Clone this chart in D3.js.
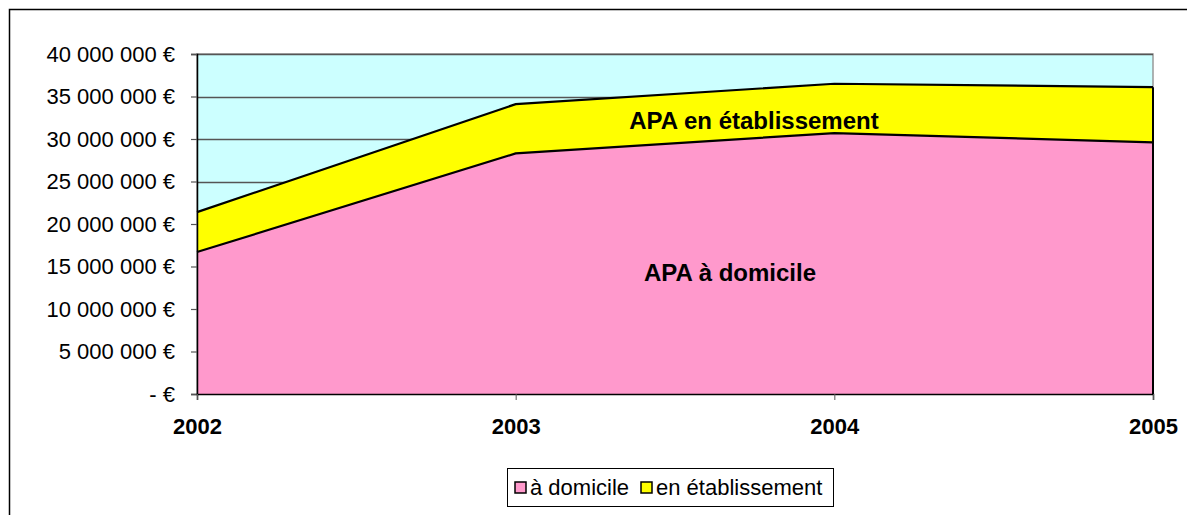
<!DOCTYPE html>
<html>
<head>
<meta charset="utf-8">
<script src="https://cdn.jsdelivr.net/npm/d3@7"></script>
<style>
  body { margin: 0; background: #fff; }
  text { font-family: "Liberation Sans", Arial, sans-serif; }
</style>
</head>
<body>
<script>
const years = ["2002", "2003", "2004", "2005"];
const domicile = [16700000, 28300000, 30700000, 29600000];
const etablissement = [4700000, 5800000, 5800000, 6500000];
const yTicks = [0, 5000000, 10000000, 15000000, 20000000, 25000000, 30000000, 35000000, 40000000];
const seriesNames = ["à domicile", "en établissement"];
const seriesColours = ["#ff99cc", "#ffff00"];

const width = 1187;
const height = 515;
const plot = { left: 197, right: 1153, top: 54, bottom: 394 };

const svg = d3.select("body")
    .append("svg")
    .attr("width", width)
    .attr("height", height);

// outer chart frame (runs off the right and bottom)
svg.append("rect")
    .attr("x", 9.5)
    .attr("y", 9.5)
    .attr("width", 1200)
    .attr("height", 600)
    .attr("fill", "none")
    .attr("stroke", "#000")
    .attr("stroke-width", 1.5);

const x = d3.scalePoint()
    .domain(years)
    .range([plot.left, plot.right]);
const y = d3.scaleLinear()
    .domain([0, 40000000])
    .range([plot.bottom, plot.top]);

svg.append("rect")
    .attr("x", plot.left)
    .attr("y", plot.top)
    .attr("width", plot.right - plot.left)
    .attr("height", plot.bottom - plot.top)
    .attr("fill", "#ccffff")
    .attr("stroke", "#999")
    .attr("stroke-width", 1.5);

// gridlines
svg.append("g")
    .selectAll("line")
    .data(yTicks.filter(d => d > 0))
    .join("line")
    .attr("x1", plot.left)
    .attr("x2", plot.right)
    .attr("y1", d => Math.round(y(d)) + 0.5)
    .attr("y2", d => Math.round(y(d)) + 0.5)
    .attr("stroke", "#555")
    .attr("stroke-width", 1.3);

const rows = years.map((yr, i) => ({ year: yr, dom: domicile[i], eta: etablissement[i] }));
const stack = d3.stack().keys(["dom", "eta"])(rows);

const area = d3.area()
    .x(d => x(d.data.year))
    .y0(d => y(d[0]))
    .y1(d => y(d[1]));
const topLine = d3.line()
    .x(d => x(d.data.year))
    .y(d => y(d[1]));

svg.append("g")
    .selectAll("path")
    .data(stack)
    .join("path")
    .attr("d", area)
    .attr("fill", (d, i) => seriesColours[i]);

svg.append("g")
    .selectAll("path")
    .data(stack)
    .join("path")
    .attr("d", topLine)
    .attr("fill", "none")
    .attr("stroke", "#000")
    .attr("stroke-width", 2.2);

// right edge of the stacked areas
svg.append("line")
    .attr("x1", plot.right)
    .attr("x2", plot.right)
    .attr("y1", y(0))
    .attr("y2", y(domicile[3] + etablissement[3]))
    .attr("stroke", "#000")
    .attr("stroke-width", 2);

// y axis
const yAxis = svg.append("g")
    .attr("transform", `translate(${plot.left},0)`)
    .call(d3.axisLeft(y)
        .tickValues(yTicks)
        .tickSize(6)
        .tickPadding(16)
        .tickFormat(d => d === 0 ? "- €" : d3.format(",")(d).replace(/,/g, " ") + " €"));
yAxis.select(".domain").attr("stroke", "#000").attr("stroke-width", 1.5);
yAxis.selectAll(".tick line").attr("stroke", "#555").attr("stroke-width", 1.2);
yAxis.selectAll(".tick text")
    .attr("font-size", 22)
    .attr("font-family", "Liberation Sans, Arial, sans-serif")
    .attr("fill", "#000");

// x axis
const xAxis = svg.append("g")
    .attr("transform", `translate(0,${plot.bottom})`)
    .call(d3.axisBottom(x).tickSize(6).tickPadding(18));
xAxis.select(".domain").attr("stroke", "#000").attr("stroke-width", 1.5);
xAxis.selectAll(".tick line").attr("stroke", "#555");
xAxis.selectAll(".tick text")
    .attr("font-size", 22)
    .attr("font-weight", "bold")
    .attr("font-family", "Liberation Sans, Arial, sans-serif")
    .attr("fill", "#000");

// in-chart labels
svg.append("text")
    .attr("x", 754)
    .attr("y", 129)
    .attr("text-anchor", "middle")
    .attr("font-size", 24)
    .attr("font-weight", "bold")
    .text("APA en établissement");
svg.append("text")
    .attr("x", 730)
    .attr("y", 281)
    .attr("text-anchor", "middle")
    .attr("font-size", 24)
    .attr("font-weight", "bold")
    .text("APA à domicile");

// legend
const legend = svg.append("g").attr("transform", "translate(507,468)");
legend.append("rect")
    .attr("x", 0.5)
    .attr("y", 0.5)
    .attr("width", 326)
    .attr("height", 38)
    .attr("fill", "#fff")
    .attr("stroke", "#000");
const legendX = [8, 134];
const items = legend.selectAll("g.item")
    .data(seriesNames)
    .join("g")
    .attr("class", "item")
    .attr("transform", (d, i) => `translate(${legendX[i]},14)`);
items.append("rect")
    .attr("width", 11)
    .attr("height", 11)
    .attr("fill", (d, i) => seriesColours[i])
    .attr("stroke", "#000")
    .attr("stroke-width", 1.5);
items.append("text")
    .attr("x", 15)
    .attr("y", 13)
    .attr("font-size", 22)
    .text(d => d);
</script>
</body>
</html>
